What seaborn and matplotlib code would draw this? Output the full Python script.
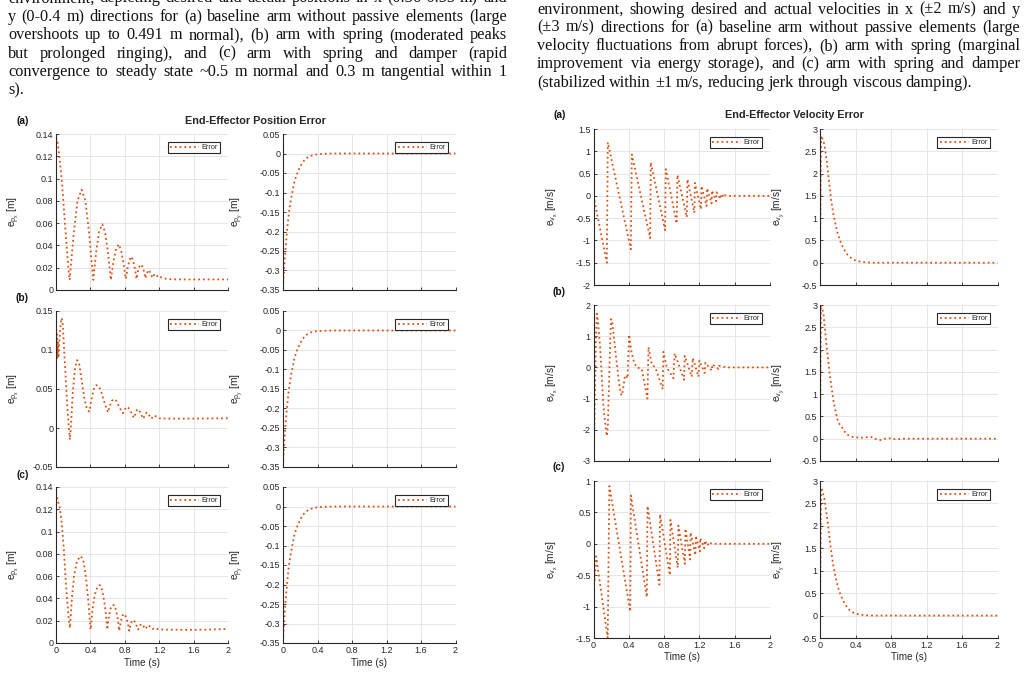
import matplotlib
matplotlib.use('Agg')
import matplotlib.pyplot as plt
from matplotlib.ticker import FuncFormatter
import seaborn as sns

# ======================
# DATA
# ======================
# position error, x direction
t_px_a = [0, 0.02, 0.039, 0.066, 0.085, 0.104, 0.125, 0.143, 0.159,
          0.205, 0.25, 0.298, 0.342, 0.387, 0.433,
          0.467, 0.50, 0.538, 0.57, 0.604, 0.638,
          0.667, 0.696, 0.728, 0.755, 0.783, 0.812,
          0.833, 0.855, 0.876, 0.895, 0.915, 0.936,
          0.953, 0.97, 0.988, 1.005, 1.022, 1.04,
          1.055, 1.08, 1.10, 1.12, 1.135, 1.155, 1.172, 1.19,
          1.22, 1.25, 1.3, 1.4, 2.0]
e_px_a = [0.137, 0.132, 0.12, 0.10, 0.08, 0.06, 0.038, 0.02, 0.009,
          0.05, 0.08, 0.09, 0.08, 0.05, 0.009,
          0.034, 0.052, 0.059, 0.052, 0.034, 0.009,
          0.025, 0.036, 0.041, 0.036, 0.025, 0.010,
          0.020, 0.027, 0.030, 0.027, 0.020, 0.010,
          0.017, 0.021, 0.023, 0.021, 0.017, 0.0105,
          0.015, 0.018, 0.015, 0.011, 0.013, 0.0145, 0.013, 0.011,
          0.0115, 0.0105, 0.0098, 0.0095, 0.0095]

t_px_b = [0, 0.005, 0.01, 0.015, 0.022, 0.028, 0.035, 0.045, 0.055, 0.066,
          0.078, 0.09, 0.11, 0.13, 0.15, 0.162, 0.175, 0.195, 0.22, 0.245,
          0.27, 0.3, 0.33, 0.36, 0.387, 0.41, 0.44, 0.47, 0.5, 0.53, 0.56,
          0.59, 0.607, 0.625, 0.65, 0.675, 0.70, 0.73, 0.76, 0.78, 0.8, 0.82,
          0.84, 0.865, 0.89, 0.905, 0.92, 0.94, 0.96, 0.98, 1.0, 1.015, 1.035,
          1.055, 1.075, 1.095, 1.11, 1.13, 1.15, 1.17, 1.2, 1.3, 1.6, 2.0]
e_px_b = [0.13, 0.10, 0.12, 0.09, 0.11, 0.09, 0.105, 0.12, 0.135, 0.141,
          0.133, 0.11, 0.07, 0.03, 0.0, -0.015, 0.005, 0.045, 0.075, 0.087,
          0.082, 0.06, 0.038, 0.024, 0.021, 0.035, 0.05, 0.055, 0.053, 0.045, 0.034,
          0.024, 0.020, 0.028, 0.035, 0.037, 0.035, 0.028, 0.022, 0.019, 0.024, 0.027,
          0.026, 0.022, 0.017, 0.013, 0.017, 0.023, 0.024, 0.020, 0.015, 0.012, 0.017,
          0.020, 0.018, 0.014, 0.012, 0.015, 0.016, 0.014, 0.0125, 0.012, 0.012, 0.0125]

t_px_c = [0, 0.02, 0.046, 0.07, 0.09, 0.11, 0.13, 0.148, 0.162,
          0.185, 0.21, 0.245, 0.29, 0.32, 0.35, 0.375, 0.402,
          0.425, 0.45, 0.48, 0.51, 0.535, 0.56, 0.58, 0.596,
          0.615, 0.635, 0.657, 0.68, 0.70, 0.72, 0.735,
          0.755, 0.775, 0.80, 0.82, 0.838, 0.851,
          0.868, 0.885, 0.905, 0.925, 0.94, 0.955,
          0.97, 0.99, 1.01, 1.025, 1.04, 1.06, 1.08, 1.10, 1.12,
          1.15, 1.18, 1.25, 1.6, 2.0]
e_px_c = [0.135, 0.128, 0.121, 0.105, 0.085, 0.06, 0.038, 0.022, 0.0135,
          0.04, 0.06, 0.074, 0.078, 0.073, 0.058, 0.038, 0.012,
          0.03, 0.043, 0.05, 0.052, 0.048, 0.038, 0.026, 0.012,
          0.024, 0.031, 0.034, 0.034, 0.029, 0.021, 0.011,
          0.02, 0.025, 0.026, 0.022, 0.017, 0.011,
          0.017, 0.02, 0.0205, 0.018, 0.015, 0.012,
          0.015, 0.017, 0.016, 0.014, 0.0125, 0.015, 0.016, 0.014, 0.0125,
          0.0135, 0.0125, 0.012, 0.0118, 0.0125]

# position error, y direction
t_py = [0, 0.005, 0.012, 0.025, 0.04, 0.055, 0.07, 0.09, 0.108, 0.13, 0.15,
        0.174, 0.2, 0.23, 0.26, 0.3, 0.35, 0.4, 0.5, 0.6, 0.8, 1.0, 1.5, 2.0]
e_py_a = [-0.345, -0.32, -0.30, -0.255, -0.215, -0.18, -0.15, -0.12, -0.10, -0.075, -0.06,
          -0.046, -0.033, -0.022, -0.014, -0.008, -0.004, -0.002, -0.0005, 0, 0, 0, 0, 0]
e_py_b = [-0.345, -0.318, -0.298, -0.252, -0.212, -0.178, -0.148, -0.118, -0.098, -0.074, -0.058,
          -0.045, -0.032, -0.021, -0.013, -0.007, -0.003, -0.0015, -0.0005, 0, 0, 0, 0, 0]
e_py_c = [-0.345, -0.32, -0.30, -0.255, -0.215, -0.18, -0.15, -0.12, -0.10, -0.075, -0.06,
          -0.046, -0.033, -0.022, -0.014, -0.008, -0.004, -0.002, -0.0005, 0, 0, 0, 0, 0]

# velocity error, x direction
t_vx_a = [0, 0.151, 0.162, 0.423, 0.434, 0.642, 0.649, 0.811, 0.819, 0.943, 0.951,
          1.057, 1.064, 1.143, 1.149, 1.218, 1.224, 1.281, 1.287, 1.338, 1.343,
          1.39, 1.395, 1.44, 1.445, 1.48, 1.485, 1.52, 2.0]
e_vx_a = [0, -1.5, 1.2, -1.2, 0.93, -0.95, 0.75, -0.77, 0.6, -0.62, 0.47,
          -0.48, 0.37, -0.38, 0.29, -0.3, 0.22, -0.23, 0.17, -0.17, 0.12,
          -0.12, 0.08, -0.07, 0.04, -0.03, 0.015, 0, 0]

t_vx_b = [0, 0.004, 0.015, 0.028, 0.038, 0.05, 0.075, 0.113, 0.14, 0.151, 0.162,
          0.175, 0.19, 0.2, 0.215, 0.245, 0.283, 0.305, 0.32, 0.335, 0.355, 0.37,
          0.385, 0.404, 0.43, 0.46, 0.49, 0.547, 0.611, 0.623, 0.66, 0.70, 0.785,
          0.792, 0.83, 0.906, 0.92, 1.026, 1.034, 1.113, 1.125, 1.19, 1.2, 1.26,
          1.268, 1.34, 1.347, 1.415, 1.42, 1.51, 2.0]
e_vx_b = [-0.3, -2.75, -1.0, 1.0, 1.72, 1.5, 0.66, -1.26, -2.0, -2.2, -1.9,
          -0.6, 0.9, 1.55, 1.4, 0.6, -0.35, -0.8, -0.9, -0.7, -0.3, -0.25,
          -0.35, 1.05, 0.5, 0.15, 0.0, -0.05, -1.0, 0.65, 0.1, 0.0, -0.7,
          0.5, 0.0, -0.35, 0.45, -0.4, 0.37, -0.3, 0.3, -0.3, 0.22, -0.18,
          0.15, -0.1, 0.1, -0.05, 0.05, 0, 0]

t_vx_c = [0, 0.01, 0.03, 0.161, 0.18, 0.416, 0.424, 0.604, 0.612, 0.747, 0.754,
          0.865, 0.872, 0.955, 0.962, 1.035, 1.042, 1.095, 1.10, 1.155, 1.16,
          1.205, 1.21, 1.255, 1.26, 1.295, 1.30, 1.35, 2.0]
e_vx_c = [0, -0.6, -0.2, -1.5, 0.92, -1.08, 0.77, -0.85, 0.6, -0.65, 0.47,
          -0.5, 0.38, -0.38, 0.29, -0.32, 0.24, -0.25, 0.18, -0.18, 0.13,
          -0.12, 0.09, -0.07, 0.05, -0.03, 0.02, 0, 0]

# velocity error, y direction
t_vy_a = [0, 0.012, 0.025, 0.05, 0.075, 0.1, 0.125, 0.15, 0.175, 0.2, 0.225,
          0.25, 0.28, 0.31, 0.34, 0.37, 0.4, 0.45, 0.5, 0.6, 2.0]
e_vy_a = [0, 2.85, 2.8, 2.65, 2.3, 1.85, 1.42, 1.1, 0.86, 0.65, 0.5,
          0.38, 0.27, 0.18, 0.12, 0.08, 0.05, 0.025, 0.01, 0.0, 0]

t_vy_b = [0, 0.011, 0.038, 0.075, 0.113, 0.15, 0.18, 0.207, 0.244, 0.27, 0.3,
          0.357, 0.45, 0.52, 0.56, 0.6, 0.64, 0.68, 0.73, 0.79, 0.86, 0.95, 2.0]
e_vy_b = [0, 3.0, 2.82, 2.07, 1.39, 0.87, 0.57, 0.36, 0.27, 0.18, 0.1,
          0.045, 0.02, 0.03, 0.045, 0.03, -0.02, -0.03, 0.0, 0.01, -0.015, 0.0, 0]

t_vy_c = [0, 0.012, 0.025, 0.05, 0.075, 0.1, 0.125, 0.15, 0.175, 0.2, 0.225,
          0.25, 0.28, 0.31, 0.34, 0.37, 0.4, 0.45, 0.5, 0.6, 2.0]
e_vy_c = [0, 2.85, 2.8, 2.6, 2.25, 1.85, 1.45, 1.12, 0.86, 0.65, 0.5,
          0.38, 0.26, 0.17, 0.11, 0.07, 0.045, 0.02, 0.01, 0.0, 0]

x_ticks = [0, 0.4, 0.8, 1.2, 1.6, 2]
yt_px = [[0, 0.02, 0.04, 0.06, 0.08, 0.1, 0.12, 0.14],
         [-0.05, 0, 0.05, 0.1, 0.15],
         [0, 0.02, 0.04, 0.06, 0.08, 0.1, 0.12, 0.14]]
yt_py = [-0.35, -0.3, -0.25, -0.2, -0.15, -0.1, -0.05, 0, 0.05]
yt_vx = [[-2, -1.5, -1, -0.5, 0, 0.5, 1, 1.5],
         [-3, -2, -1, 0, 1, 2],
         [-1.5, -1, -0.5, 0, 0.5, 1]]
yt_vy = [-0.5, 0, 0.5, 1, 1.5, 2, 2.5, 3]

left_text = [
    "environment, depicting desired and actual positions in x (0.36-0.55 m) and",
    "y (0-0.4 m) directions for (a) baseline arm without passive elements (large",
    "overshoots up to 0.491 m normal), (b) arm with spring (moderated peaks",
    "but prolonged ringing), and (c) arm with spring and damper (rapid",
    "convergence to steady state ~0.5 m normal and 0.3 m tangential within 1",
    "s).",
]
right_text = [
    "environment, showing desired and actual velocities in x (\u00b12 m/s) and y",
    "(\u00b13 m/s) directions for (a) baseline arm without passive elements (large",
    "velocity fluctuations from abrupt forces), (b) arm with spring (marginal",
    "improvement via energy storage), and (c) arm with spring and damper",
    "(stabilized within \u00b11 m/s, reducing jerk through viscous damping).",
]

# ======================
# STYLE
# ======================
sns.set_theme(style='whitegrid', rc={
    'axes.edgecolor': '#262626', 'axes.linewidth': 0.8,
    'axes.spines.top': False, 'axes.spines.right': False,
    'grid.color': '#e2e2e2', 'grid.linewidth': 0.6,
    'xtick.direction': 'in', 'ytick.direction': 'in',
    'xtick.bottom': True, 'ytick.left': True,
    'xtick.major.size': 2.5, 'ytick.major.size': 2.5,
    'xtick.major.width': 0.6, 'ytick.major.width': 0.6,
    'xtick.major.pad': 2, 'ytick.major.pad': 2,
    'xtick.color': '#262626', 'ytick.color': '#262626',
    'xtick.labelsize': 6.5, 'ytick.labelsize': 6.5,
    'mathtext.default': 'regular',
})
plt.rcParams['font.family'] = ['Liberation Sans', 'DejaVu Sans']
SERIF = ['Liberation Serif', 'DejaVu Serif']
LINE = '#D95319'
W, H = 1026, 675

fig = plt.figure(figsize=(W / 100, H / 100), dpi=100)
rend = fig.canvas.get_renderer()


def px_axes(x0, x1, y0, y1):
    return fig.add_axes([x0 / W, 1 - y1 / H, (x1 - x0) / W, (y1 - y0) / H])


def fmt(v, pos):
    if abs(v) < 1e-9:
        return '0'
    return '{:g}'.format(round(v, 6))


def panel(ax, t, e, yticks, ylabel, label_x, bottom):
    sns.lineplot(x=t, y=e, ax=ax, estimator=None, sort=False, color=LINE,
                 lw=1.3, linestyle=':', label='Error')
    ax.set_xlim(0, 2)
    ax.set_ylim(yticks[0], yticks[-1])
    ax.set_xticks(x_ticks)
    ax.set_yticks(yticks)
    ax.xaxis.set_major_formatter(FuncFormatter(fmt))
    ax.yaxis.set_major_formatter(FuncFormatter(fmt))
    ax.tick_params(labelbottom=bottom)
    ax.set_xlabel('')
    ax.set_ylabel(ylabel, fontsize=7.3, color='#262626')
    ax.yaxis.set_label_coords(label_x, 0.5)
    ax.grid(True, color='#e2e2e2', lw=0.6)
    leg = ax.legend(loc='upper right', fontsize=5.3, frameon=True, fancybox=False,
                    edgecolor='#262626', framealpha=1, handlelength=4.0,
                    handletextpad=0.3, borderpad=0.3, borderaxespad=1.05)
    leg.get_frame().set_linewidth(0.8)


# ======================
# POSITION ERROR FIGURE
# ======================
pos_rows = [(134, 290), (311, 467), (487, 643)]
px_data = [(t_px_a, e_px_a), (t_px_b, e_px_b), (t_px_c, e_px_c)]
py_data = [e_py_a, e_py_b, e_py_c]
for i, (y0, y1) in enumerate(pos_rows):
    ax = px_axes(56, 228, y0, y1)
    panel(ax, px_data[i][0], px_data[i][1], yt_px[i], r'$e_{p_{x}}$ [m]', -0.2, i == 2)
    ax = px_axes(283, 455.5, y0, y1)
    panel(ax, t_py, py_data[i], yt_py, r'$e_{p_{y}}$ [m]', -0.22, i == 2)

# ======================
# VELOCITY ERROR FIGURE
# ======================
vel_rows = [(129, 285), (305, 461), (481, 638)]
vx_data = [(t_vx_a, e_vx_a), (t_vx_b, e_vx_b), (t_vx_c, e_vx_c)]
vy_data = [(t_vy_a, e_vy_a), (t_vy_b, e_vy_b), (t_vy_c, e_vy_c)]
for i, (y0, y1) in enumerate(vel_rows):
    ax = px_axes(593.5, 770, y0, y1)
    panel(ax, vx_data[i][0], vx_data[i][1], yt_vx[i], r'$e_{v_{x}}$ [m/s]', -0.19, i == 2)
    ax = px_axes(820, 997.5, y0, y1)
    panel(ax, vy_data[i][0], vy_data[i][1], yt_vy, r'$e_{v_{y}}$ [m/s]', -0.188, i == 2)


def ftext(x, y, s, **kw):
    return fig.text(x / W, 1 - y / H, s, **kw)


ftext(255.5, 121, 'End-Effector Position Error', fontsize=7.8, fontweight='bold',
      color='#262626', ha='center', va='center')
ftext(794.3, 115, 'End-Effector Velocity Error', fontsize=7.8, fontweight='bold',
      color='#262626', ha='center', va='center')
for lab, (x, y) in zip(['(a)', '(b)', '(c)'], [(23, 121), (22.5, 298), (22.5, 475)]):
    ftext(x, y, lab, fontsize=7.3, fontweight='bold', ha='center', va='center', color='#111111')
for lab, (x, y) in zip(['(a)', '(b)', '(c)'], [(559.5, 115), (558.7, 292), (558.7, 467)]):
    ftext(x, y, lab, fontsize=7.3, fontweight='bold', ha='center', va='center', color='#111111')
for cx, y in [(142, 662.5), (369, 662.5), (682, 657), (909, 657)]:
    ftext(cx, y, 'Time (s)', fontsize=7.1, ha='center', va='center', color='#262626')


# ======================
# CAPTION TEXT (justified)
# ======================
def put_line(text, x0, x1, y, justify=True, size=11.7):
    words = text.split(' ')
    items = [ftext(0, 0, w, fontsize=size, family=SERIF, va='baseline', ha='left',
                   color='#111111') for w in words]
    widths = [it.get_window_extent(rend).width for it in items]
    gap = 0.25 * size * 100 / 72
    if justify and len(words) > 1:
        gap = max((x1 - x0 - sum(widths)) / (len(words) - 1), 1.0)
    x = x0
    for it, w in zip(items, widths):
        it.set_position((x / W, 1 - y / H))
        x += w + gap


for k, line in enumerate(left_text):
    put_line(line, 8, 507, 2.5 + 18.4 * k, justify=k < len(left_text) - 1)
for k, line in enumerate(right_text):
    put_line(line, 537, 1020, 13.5 + 18.3 * k, justify=k < len(right_text) - 1)

fig.savefig('out.png', dpi=100)
